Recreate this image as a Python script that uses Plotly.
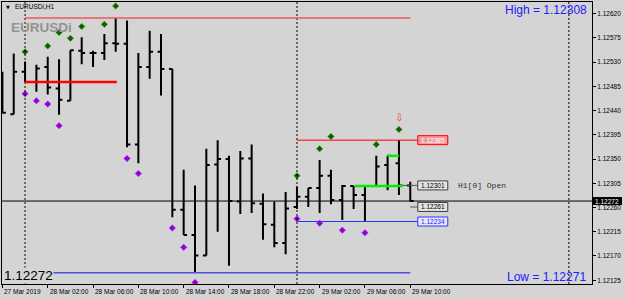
import plotly.graph_objects as go

# ---------------- data ----------------
bar_times = (["27 Mar 22:00", "27 Mar 23:00"]
             + ["28 Mar %02d:00" % h for h in range(24)]
             + ["29 Mar %02d:00" % h for h in range(11)])

opens = [1.12506, 1.12433, 1.12512, 1.12493, 1.12521, 1.12481, 1.12458, 1.12551, 1.12547, 1.12547,
         1.12565, 1.12564, 1.12377, 1.12521, 1.12549, 1.12517, 1.12256, 1.12209, 1.12171, 1.12340,
         1.12350, 1.12271, 1.12351, 1.12267, 1.12228, 1.12194, 1.12261, 1.12280, 1.12296, 1.12319,
         1.12274, 1.12300, 1.12283, 1.12300, 1.12339, 1.12342, 1.12301]
highs = [1.12512, 1.12546, 1.12531, 1.12525, 1.12540, 1.12535, 1.12552, 1.12576, 1.12551, 1.12582,
         1.12612, 1.12607, 1.12547, 1.12588, 1.12582, 1.12517, 1.12330, 1.12301, 1.12369, 1.12385,
         1.12356, 1.12365, 1.12377, 1.12286, 1.12271, 1.12289, 1.12299, 1.12296, 1.12348, 1.12330,
         1.12302, 1.12300, 1.12300, 1.12356, 1.12356, 1.12385, 1.12308]
lows = [1.12435, 1.12433, 1.12493, 1.12475, 1.12470, 1.12432, 1.12458, 1.12526, 1.12521, 1.12534,
        1.12549, 1.12372, 1.12342, 1.12499, 1.12468, 1.12242, 1.12209, 1.12139, 1.12171, 1.12215,
        1.12152, 1.12248, 1.12250, 1.12200, 1.12186, 1.12173, 1.12257, 1.12261, 1.12250, 1.12266,
        1.12237, 1.12257, 1.12234, 1.12300, 1.12292, 1.12283, 1.12271]
closes = [1.12436, 1.12512, 1.12493, 1.12518, 1.12483, 1.12460, 1.12552, 1.12547, 1.12547, 1.12565,
          1.12564, 1.12377, 1.12521, 1.12549, 1.12517, 1.12256, 1.12209, 1.12171, 1.12339, 1.12350,
          1.12272, 1.12351, 1.12268, 1.12229, 1.12194, 1.12258, 1.12280, 1.12296, 1.12319, 1.12274,
          1.12300, 1.12283, 1.12300, 1.12336, 1.12356, 1.12301, 1.12272]

up_dot_times = ["28 Mar 00:00", "28 Mar 02:00", "28 Mar 03:00", "28 Mar 04:00", "28 Mar 05:00",
                "28 Mar 07:00", "28 Mar 08:00", "29 Mar 00:00", "29 Mar 02:00", "29 Mar 03:00",
                "29 Mar 07:00", "29 Mar 09:00"]
up_dot_prices = [1.12549, 1.12560, 1.12585, 1.12574, 1.12596, 1.12600, 1.12634,
                 1.12319, 1.12369, 1.12392, 1.12377, 1.12405]
dn_dot_times = ["28 Mar 00:00", "28 Mar 01:00", "28 Mar 02:00", "28 Mar 03:00", "28 Mar 09:00",
                "28 Mar 10:00", "28 Mar 13:00", "28 Mar 14:00", "28 Mar 15:00", "29 Mar 00:00",
                "29 Mar 02:00", "29 Mar 04:00", "29 Mar 06:00"]
dn_dot_prices = [1.12471, 1.12458, 1.12452, 1.12412, 1.12351, 1.12323, 1.12222, 1.12186, 1.12121,
                 1.12239, 1.12231, 1.12218, 1.12213]

axis_label_times = ["27 Mar 22:00", "28 Mar 02:00", "28 Mar 06:00", "28 Mar 10:00", "28 Mar 14:00",
                    "28 Mar 18:00", "28 Mar 22:00", "29 Mar 02:00", "29 Mar 06:00", "29 Mar 10:00"]
axis_label_texts = ["27 Mar 2019", "28 Mar 02:00", "28 Mar 06:00", "28 Mar 10:00", "28 Mar 14:00",
                    "28 Mar 18:00", "28 Mar 22:00", "29 Mar 02:00", "29 Mar 06:00", "29 Mar 10:00"]
price_ticks = [1.12620, 1.12575, 1.12530, 1.12485, 1.12440, 1.12395, 1.12350, 1.12305,
               1.12260, 1.12215, 1.12170, 1.12125]
day_separators = ["28 Mar 00:00", "29 Mar 00:00", "30 Mar 00:00"]

prev_day_high = 1.12612
prev_day_low = 1.12139
day_open_level = 1.12493
today_high = 1.12385
today_low = 1.12234
h1_open = 1.12301
level_a = 1.12261
bid = 1.12272
green_level_1 = 1.12300
green_level_2 = 1.12356
bar_high = 1.12308
bar_low = 1.12271
signal_arrow_time = "29 Mar 09:00"
signal_arrow_price = 1.12428


def idx(t):
    d, _, hm = t.split(" ")
    return (int(d) - 27) * 24 + int(hm[:2]) - 22


# ---------------- layout constants ----------------
W, H = 625, 299
ML, MR, MT, MB = 2, 33, 2, 15
PW, PH = W - ML - MR, H - MT - MB
X_RANGE = [-0.035, 52.04]
Y_RANGE = [1.12118, 1.126415]
bar_px = PW / (X_RANGE[1] - X_RANGE[0])
price_px = PH / (Y_RANGE[1] - Y_RANGE[0])
BG = "#d4d4d4"
SANS = "Liberation Sans, Arial, sans-serif"

xs = [idx(t) for t in bar_times]

fig = go.Figure()
fig.add_trace(go.Ohlc(
    x=xs, open=opens, high=highs, low=lows, close=closes,
    increasing=dict(line=dict(color="black", width=2)),
    decreasing=dict(line=dict(color="black", width=2)),
    tickwidth=0.3, hoverinfo="skip", showlegend=False))

fig.add_trace(go.Scatter(
    x=[idx(t) for t in up_dot_times], y=up_dot_prices, mode="markers",
    marker=dict(symbol="diamond", size=5, color="#006400", line=dict(color="#7a9a30", width=0.6)),
    hoverinfo="skip", showlegend=False))
fig.add_trace(go.Scatter(
    x=[idx(t) for t in dn_dot_times], y=dn_dot_prices, mode="markers",
    marker=dict(symbol="diamond", size=5, color="#9400d3", line=dict(color="#b040f0", width=0.6)),
    hoverinfo="skip", showlegend=False))

shapes = []
annotations = []

# day separators
for t in day_separators:
    shapes.append(dict(type="line", xref="x", yref="paper", x0=idx(t), x1=idx(t), y0=0, y1=1,
                       line=dict(color="black", width=1, dash="2px,2px")))


def hline(x0, x1, y, color, width):
    shapes.append(dict(type="line", xref="x", yref="y", x0=x0, x1=x1, y0=y, y1=y,
                       line=dict(color=color, width=width)))


last = idx(bar_times[-1])
box_left = last + 7.5 / bar_px
hline(idx("28 Mar 00:00"), last, prev_day_high, "#ee5a5a", 1.5)
hline(idx("28 Mar 00:00"), last, prev_day_low, "#4f4fe6", 1.5)
hline(idx("28 Mar 00:00"), idx("28 Mar 08:00") + 0.1, day_open_level, "#ff0000", 2.5)
hline(idx("29 Mar 00:00"), box_left, today_high, "#ff0000", 1)
hline(idx("29 Mar 00:00"), box_left, today_low, "#3030ff", 1)
hline(last - 0.8, box_left, h1_open, "#505050", 1)
hline(last, box_left, level_a, "#505050", 1)
hline(idx("29 Mar 05:00") + 0.1, idx("29 Mar 09:00") + 0.35, green_level_1, "#00ee00", 2.5)
hline(idx("29 Mar 08:00"), idx("29 Mar 09:00"), green_level_2, "#00ee00", 2.5)

# bid line
shapes.append(dict(type="line", xref="paper", yref="y", x0=0, x1=1, y0=bid, y1=bid,
                   line=dict(color="black", width=1)))


def price_box(x_left, price, border, fill, color):
    x1 = x_left + 30 / bar_px
    h = 4.5 / price_px
    shapes.append(dict(type="rect", xref="x", yref="y", x0=x_left, x1=x1, y0=price - h, y1=price + h,
                       line=dict(color=border, width=1), fillcolor=fill))
    annotations.append(dict(x=(x_left + x1) / 2, y=price, xref="x", yref="y", text="%.5f" % price,
                            showarrow=False, xanchor="center", yanchor="middle",
                            font=dict(size=6.5, color=color, family=SANS)))


price_box(box_left, today_high, "#ff0000", "#f29b9b", "#ffffff")
price_box(box_left, h1_open, "#404040", "#e2e2e2", "#000000")
price_box(box_left, level_a, "#404040", "#e2e2e2", "#000000")
price_box(box_left, today_low, "#3030ff", "#e8e8ff", "#2020ff")

annotations.append(dict(x=box_left + 38 / bar_px, y=h1_open, xref="x", yref="y", text="H1[0] Open",
                        showarrow=False, xanchor="left", yanchor="middle",
                        font=dict(size=8, color="#303030", family="Liberation Mono, Courier New, monospace")))

# current price box on axis
bh = 4 / price_px
shapes.append(dict(type="rect", xref="paper", yref="y", x0=1.0017, x1=1.0508, y0=bid - bh, y1=bid + bh,
                   line=dict(color="black", width=0), fillcolor="black"))
annotations.append(dict(x=1.026, y=bid, xref="paper", yref="y", text="%.5f" % bid, showarrow=False,
                        xanchor="center", yanchor="middle", font=dict(size=6.5, color="white", family=SANS)))

# signal arrow
annotations.append(dict(x=idx(signal_arrow_time), y=signal_arrow_price, xref="x", yref="y", text="⇩",
                        showarrow=False, xanchor="center", yanchor="middle",
                        font=dict(size=10, color="#f04040", family="DejaVu Sans")))

# time axis labels
for t, s in zip(axis_label_times, axis_label_texts):
    annotations.append(dict(x=idx(t), y=0, xref="x", yref="paper", text=s, showarrow=False,
                            xanchor="left", yanchor="top", xshift=0, yshift=-1.5,
                            font=dict(size=6.5, color="black", family=SANS)))

# title and watermark
annotations.append(dict(x=(4 - ML) / PW, y=(H - MB - 7) / PH, xref="paper", yref="paper", text="▼",
                        showarrow=False, xanchor="left", yanchor="middle",
                        font=dict(size=5, color="black", family="DejaVu Sans")))
annotations.append(dict(x=(12.5 - ML) / PW, y=(H - MB - 7) / PH, xref="paper", yref="paper", text="EURUSDi,H1",
                        showarrow=False, xanchor="left", yanchor="middle",
                        font=dict(size=6.5, color="black", family=SANS)))
annotations.append(dict(x=(9 - ML) / PW, y=(H - MB - 27.5) / PH, xref="paper", yref="paper", text="<b>EURUSDi</b>",
                        showarrow=False, xanchor="left", yanchor="middle",
                        font=dict(size=13.5, color="#939393", family="Liberation Sans Narrow, Arial Narrow, Liberation Sans")))

annotations.append(dict(x=(589 - ML) / PW, y=(H - MB - 10) / PH, xref="paper", yref="paper",
                        text="High = %.5f" % bar_high, showarrow=False, xanchor="right", yanchor="middle",
                        font=dict(size=12, color="#2020ff", family=SANS)))
annotations.append(dict(x=(588 - ML) / PW, y=(H - MB - 276.7) / PH, xref="paper", yref="paper",
                        text="Low = %.5f" % bar_low, showarrow=False, xanchor="right", yanchor="middle",
                        font=dict(size=12, color="#2020ff", family=SANS)))
annotations.append(dict(x=(3 - ML) / PW, y=(H - MB - 275.7) / PH, xref="paper", yref="paper",
                        text="%.5f" % bid, showarrow=False, xanchor="left", yanchor="middle",
                        bgcolor=BG, borderpad=0,
                        font=dict(size=13.5, color="black", family=SANS)))

fig.update_layout(
    width=W, height=H, margin=dict(l=ML, r=MR, t=MT, b=MB),
    paper_bgcolor=BG, plot_bgcolor=BG, showlegend=False,
    shapes=shapes, annotations=annotations,
    xaxis=dict(range=X_RANGE, rangeslider=dict(visible=False), showgrid=False, zeroline=False,
               showline=True, mirror=True, linecolor="black", linewidth=1,
               tickmode="array", tickvals=[idx(t) for t in axis_label_times], ticks="outside",
               ticklen=3, tickcolor="black", tickwidth=1, showticklabels=False, fixedrange=True),
    yaxis=dict(range=Y_RANGE, side="right", showgrid=False, zeroline=False,
               showline=True, mirror=True, linecolor="black", linewidth=1,
               tickmode="array", tickvals=price_ticks, ticktext=["%.5f" % p for p in price_ticks],
               ticks="outside", ticklen=3, tickcolor="black", tickwidth=1,
               tickfont=dict(size=6.5, color="black", family=SANS), fixedrange=True),
)

fig.write_html("out.html")
